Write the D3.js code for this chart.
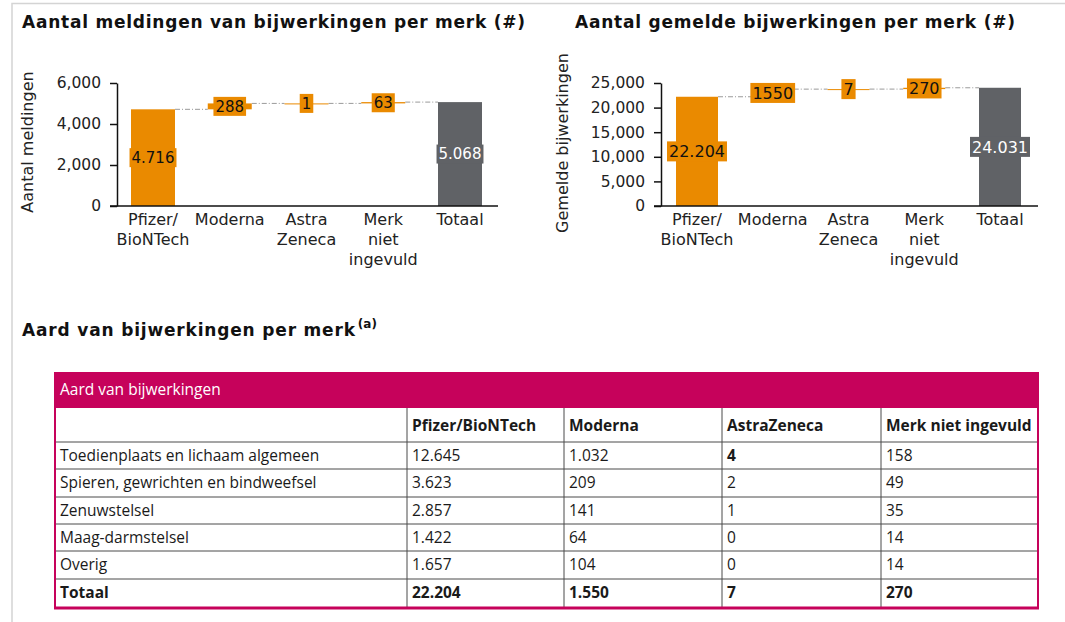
<!DOCTYPE html>
<html>
<head>
<meta charset="utf-8">
<script src="https://cdn.jsdelivr.net/npm/d3@7"></script>
<style>
  body { margin: 0; background: #fff; }
  svg { display: block; }
  .tick text { font-family: "DejaVu Sans", Verdana, sans-serif; font-size: 15.5px; fill: #222; }
</style>
</head>
<body>
<script>
// DATA

var brands = ["Pfizer/BioNTech", "Moderna", "AstraZeneca", "Merk niet ingevuld", "Totaal"];
var brandLabels = [["Pfizer/", "BioNTech"], ["Moderna"], ["Astra", "Zeneca"], ["Merk", "niet", "ingevuld"], ["Totaal"]];
var meldingen = [4716, 288, 1, 63];
var meldingenLabels = ["4.716", "288", "1", "63", "5.068"];
var bijwerkingen = [22204, 1550, 7, 270];
var bijwerkingenLabels = ["22.204", "1550", "7", "270", "24.031"];
var meldingenTicks = [0, 2000, 4000, 6000];
var bijwerkingenTicks = [0, 5000, 10000, 15000, 20000, 25000];

var tableColumns = ["Pfizer/BioNTech", "Moderna", "AstraZeneca", "Merk niet ingevuld"];
var tableRows = ["Toedienplaats en lichaam algemeen", "Spieren, gewrichten en bindweefsel", "Zenuwstelsel", "Maag-darmstelsel", "Overig", "Totaal"];
var pfizerCol = ["12.645", "3.623", "2.857", "1.422", "1.657", "22.204"];
var modernaCol = ["1.032", "209", "141", "64", "104", "1.550"];
var astraCol = ["4", "2", "1", "0", "0", "7"];
var merkCol = ["158", "49", "35", "14", "14", "270"];

var orange = "#EA8A00";
var grey = "#606266";
var magenta = "#C6025B";
var fontMain = '"DejaVu Sans", Verdana, sans-serif';
var fontTable = '"Open Sans", "Liberation Sans", sans-serif';

// SVG WRAPPER

var svg = d3.select("body")
  .append("svg")
  .attr("width", 1065)
  .attr("height", 622);

// page frame
svg.append("path")
  .attr("d", "M12,622 V3.5 H1065")
  .attr("fill", "none")
  .attr("stroke", "#d4d4d4")
  .attr("stroke-width", 1.5);

// WATERFALL FUNCTION

function waterfall(opts) {
  var g = svg.append("g");

  g.append("text")
    .attr("x", opts.titleX)
    .attr("y", 28)
    .attr("font-family", fontMain)
    .attr("font-weight", "bold")
    .attr("font-size", "17px")
    .attr("textLength", opts.titleLength)
    .attr("lengthAdjust", "spacing")
    .attr("fill", "#111")
    .text(opts.title);

  var x = d3.scalePoint().domain(brands).range(opts.xRange);
  var y = d3.scaleLinear().domain(opts.yDomain).range([206, 83]);

  // running totals
  var steps = [];
  var run = 0;
  opts.values.forEach(function (v, i) {
    steps.push({ name: brands[i], start: run, end: run + v, total: false });
    run += v;
  });
  steps.push({ name: brands[4], start: 0, end: run, total: true });

  var bw = opts.barWidth;

  // connectors
  for (var i = 0; i < steps.length - 1; i++) {
    g.append("line")
      .attr("x1", x(steps[i].name) + bw / 2)
      .attr("x2", x(steps[i + 1].name) - bw / 2)
      .attr("y1", y(steps[i].end))
      .attr("y2", y(steps[i].end))
      .attr("stroke", "#9a9a9a")
      .attr("stroke-width", 1)
      .attr("stroke-dasharray", "5,2,1,2");
  }

  // bars
  g.selectAll("rect.bar")
    .data(steps)
    .enter()
    .append("rect")
    .attr("class", "bar")
    .attr("x", function (d) { return x(d.name) - bw / 2; })
    .attr("width", bw)
    .attr("y", function (d) { return y(Math.max(d.start, d.end)); })
    .attr("height", function (d) { return Math.max(1, Math.abs(y(d.start) - y(d.end))); })
    .attr("fill", function (d) { return d.total ? grey : orange; });

  // value labels with boxes
  steps.forEach(function (d, i) {
    var cy = y((d.start + d.end) / 2);
    var lg = g.append("g");
    var box = lg.append("rect");
    var t = lg.append("text")
      .attr("x", x(d.name))
      .attr("y", cy + opts.labelSize * 0.36)
      .attr("text-anchor", "middle")
      .attr("font-family", fontMain)
      .attr("font-size", opts.labelSize + "px")
      .attr("fill", d.total ? "#fff" : "#111")
      .text(opts.labels[i]);
    var w = t.node().getComputedTextLength() + 4;
    var h = opts.labelSize + 4;
    box.attr("x", x(d.name) - w / 2)
      .attr("y", cy - h / 2)
      .attr("width", w)
      .attr("height", h)
      .attr("fill", d.total ? grey : orange);
  });

  // y axis
  var yAxis = d3.axisLeft(y)
    .tickValues(opts.ticks)
    .tickFormat(d3.format(","))
    .tickSize(7)
    .tickSizeOuter(0)
    .tickPadding(9);

  var ya = g.append("g")
    .attr("transform", "translate(" + opts.axisX + ",0)")
    .call(yAxis);
  ya.selectAll("path, line").attr("stroke", "#111").attr("stroke-width", 1.5);

  // x axis baseline
  g.append("line")
    .attr("x1", opts.axisX - 7)
    .attr("x2", opts.xEnd)
    .attr("y1", 206)
    .attr("y2", 206)
    .attr("stroke", "#111")
    .attr("stroke-width", 1.5);

  // category labels
  brandLabels.forEach(function (lines, i) {
    var t = g.append("text")
      .attr("text-anchor", "middle")
      .attr("font-family", fontMain)
      .attr("font-size", "16px")
      .attr("fill", "#222");
    lines.forEach(function (ln, j) {
      t.append("tspan")
        .attr("x", x(brands[i]))
        .attr("y", 225 + j * 20)
        .text(ln);
    });
  });

  // y title
  g.append("text")
    .attr("transform", "translate(" + opts.yTitleX + "," + opts.yTitleY + ") rotate(-90)")
    .attr("text-anchor", "middle")
    .attr("font-family", fontMain)
    .attr("font-size", "16px")
    .attr("fill", "#222")
    .text(opts.yTitle);
}

waterfall({
  title: "Aantal meldingen van bijwerkingen per merk (#)",
  titleX: 22,
  titleLength: 503,
  values: meldingen,
  labels: meldingenLabels,
  ticks: meldingenTicks,
  yDomain: [0, 6000],
  xRange: [153, 460],
  barWidth: 44,
  axisX: 117,
  xEnd: 498,
  labelSize: 15,
  yTitle: "Aantal meldingen",
  yTitleX: 33,
  yTitleY: 142
});

waterfall({
  title: "Aantal gemelde bijwerkingen per merk (#)",
  titleX: 575,
  titleLength: 440,
  values: bijwerkingen,
  labels: bijwerkingenLabels,
  ticks: bijwerkingenTicks,
  yDomain: [0, 25000],
  xRange: [697, 1000],
  barWidth: 42,
  axisX: 661,
  xEnd: 1038,
  labelSize: 16,
  yTitle: "Gemelde bijwerkingen",
  yTitleX: 568,
  yTitleY: 143
});

// TABLE

var tt = svg.append("text")
  .attr("x", 22)
  .attr("y", 336)
  .attr("font-family", fontMain)
  .attr("font-weight", "bold")
  .attr("font-size", "17px")
  .attr("fill", "#111");
tt.append("tspan")
  .attr("textLength", 333)
  .attr("lengthAdjust", "spacing")
  .text("Aard van bijwerkingen per merk");
tt.append("tspan")
  .attr("dy", -8)
  .attr("dx", 2)
  .attr("font-size", "12px")
  .text("(a)");

var tableLeft = 55, tableRight = 1038;
var colEdges = [tableLeft, 407, 564, 722, 881, tableRight];
var rowEdges = [408, 442, 469, 497, 524, 551, 579, 607];
var columnData = [tableRows, pfizerCol, modernaCol, astraCol, merkCol];
var tableSize = "15.5px";

var tg = svg.append("g");

tg.append("rect")
  .attr("x", tableLeft)
  .attr("y", 372)
  .attr("width", tableRight - tableLeft)
  .attr("height", 36)
  .attr("fill", magenta);

tg.append("text")
  .attr("x", tableLeft + 5)
  .attr("y", 395)
  .attr("font-family", fontTable)
  .attr("font-size", tableSize)
  .attr("fill", "#fff")
  .text("Aard van bijwerkingen");

// row lines
tg.selectAll("line.row")
  .data(rowEdges.slice(1, -1))
  .enter()
  .append("line")
  .attr("x1", tableLeft)
  .attr("x2", tableRight)
  .attr("y1", function (d) { return d; })
  .attr("y2", function (d) { return d; })
  .attr("stroke", "#4a4a4a")
  .attr("stroke-width", 1);

// column lines
tg.selectAll("line.col")
  .data(colEdges.slice(1, -1))
  .enter()
  .append("line")
  .attr("x1", function (d) { return d; })
  .attr("x2", function (d) { return d; })
  .attr("y1", 408)
  .attr("y2", 607)
  .attr("stroke", "#4a4a4a")
  .attr("stroke-width", 1);

// side borders
[tableLeft, tableRight].forEach(function (xx) {
  tg.append("line")
    .attr("x1", xx).attr("x2", xx)
    .attr("y1", 372).attr("y2", 609)
    .attr("stroke", magenta)
    .attr("stroke-width", 2);
});
tg.append("line")
  .attr("x1", tableLeft - 1).attr("x2", tableRight + 1)
  .attr("y1", 608).attr("y2", 608)
  .attr("stroke", magenta)
  .attr("stroke-width", 3);

// column headers
tableColumns.forEach(function (c, i) {
  tg.append("text")
    .attr("x", colEdges[i + 1] + 5)
    .attr("y", 431)
    .attr("font-family", fontTable)
    .attr("font-weight", "bold")
    .attr("font-size", tableSize)
    .attr("fill", "#1a1a1a")
    .text(c);
});

// cells
columnData.forEach(function (col, ci) {
  col.forEach(function (val, ri) {
    var bold = ri === col.length - 1 || (ci === 3 && ri === 0);
    tg.append("text")
      .attr("x", colEdges[ci] + 5)
      .attr("y", (rowEdges[ri + 1] + rowEdges[ri + 2]) / 2 + 5)
      .attr("font-family", fontTable)
      .attr("font-weight", bold ? "bold" : "normal")
      .attr("font-size", tableSize)
      .attr("fill", "#1a1a1a")
      .text(val);
  });
});
</script>
</body>
</html>
